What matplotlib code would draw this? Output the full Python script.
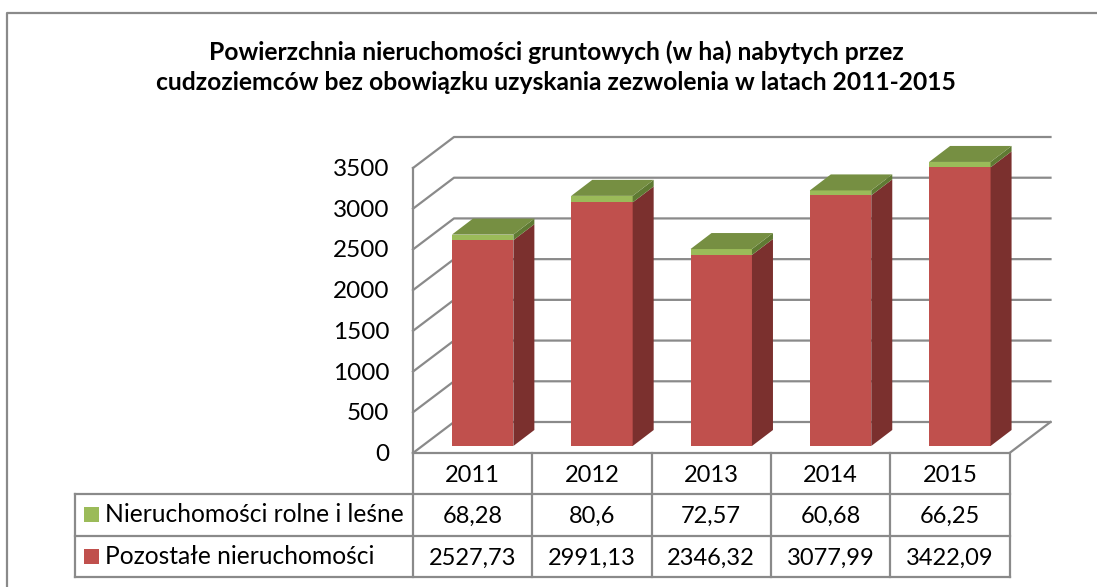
import matplotlib
matplotlib.use("Agg")
import matplotlib.pyplot as plt
from matplotlib.patches import Rectangle

plt.rcParams['font.family'] = ['Lato', 'DejaVu Sans']

W, H = 1097, 587

title = ("Powierzchnia nieruchomości gruntowych (w ha) nabytych przez\n"
         "cudzoziemców bez obowiązku uzyskania zezwolenia w latach 2011-2015")
years = ["2011", "2012", "2013", "2014", "2015"]
rolne = [68.28, 80.6, 72.57, 60.68, 66.25]
pozostale = [2527.73, 2991.13, 2346.32, 3077.99, 3422.09]
rolne_labels = ["68,28", "80,6", "72,57", "60,68", "66,25"]
pozostale_labels = ["2527,73", "2991,13", "2346,32", "3077,99", "3422,09"]
series_names = ["Nieruchomości rolne i leśne", "Pozostałe nieruchomości"]
yticks = [0, 500, 1000, 1500, 2000, 2500, 3000, 3500]

GREY = "#8a8a8a"
RED = "#c0504d"
RED_SIDE = "#7b302e"
GREEN = "#9bbb59"
GREEN_TOP = "#768f42"
GREEN_SIDE = "#5f7a33"
LW = 1.6
TICK_SIZE = 17.5
YEAR_SIZE = 17
VALUE_SIZE = 17
LEGEND_SIZE = 17.7

# pixel box of the front plane
LEFT, RIGHT, BOTTOM, TOP = 413, 1009.5, 453, 168

# depth of the walls and of the bars, in data units
SX = 5 / (RIGHT - LEFT)
SY = 3500 / (BOTTOM - TOP)
WALL_X, WALL_Y = 41 * SX, 31 * SY
BAR_X, BAR_Y = 21 * SX, 16 * SY
SHIFT_X, SHIFT_Y = 10 * SX, 7 * SY
BAR_W = 0.515

fig = plt.figure(figsize=(W / 100, H / 100), dpi=100)

# whole figure overlay in pixels, for frame and table
bg = fig.add_axes([0, 0, 1, 1])
bg.set_xlim(0, W)
bg.set_ylim(H, 0)
bg.axis("off")

ax = fig.add_axes([LEFT / W, 1 - BOTTOM / H, (RIGHT - LEFT) / W, (BOTTOM - TOP) / H])
ax.set_xlim(0, 5)
ax.set_ylim(0, 3500)
ax.axis("off")

# frame, open on the right and bottom
bg.plot([6.5, 6.5, W], [H, 12.5, 12.5], color=GREY, lw=LW, solid_capstyle="butt")

fig.text(556 / W, 1 - 67.5 / H, title, ha="center", va="center", fontsize=17.7, fontweight="bold",
         linespacing=1.38, color="black")

# walls and floor
for v in yticks:
    ax.plot([0, WALL_X, 5 + WALL_X], [v, v + WALL_Y, v + WALL_Y], color=GREY, lw=LW, clip_on=False)
    ax.text(-0.2, v - 18, str(v), ha="right", va="center", fontsize=TICK_SIZE, color="black")
ax.plot([0, 0], [0, 3500], color=GREY, lw=LW, clip_on=False)
ax.plot([0, 5, 5 + WALL_X], [0, 0, WALL_Y], color=GREY, lw=LW, clip_on=False)

# bars: front faces through bar(), side and top faces as polygons
xs = [i + 0.5 + SHIFT_X for i in range(len(years))]
base = [SHIFT_Y] * len(years)
tops = [p + SHIFT_Y for p in pozostale]
ax.bar(xs, pozostale, BAR_W, bottom=base, color=RED, zorder=3, clip_on=False)
ax.bar(xs, rolne, BAR_W, bottom=tops, color=GREEN, zorder=3, clip_on=False)
for x, p, r in zip(xs, pozostale, rolne):
    x1 = x + BAR_W / 2
    x0 = x - BAR_W / 2
    y0 = SHIFT_Y
    y1 = y0 + p
    y2 = y1 + r
    ax.fill([x1, x1 + BAR_X, x1 + BAR_X, x1], [y0, y0 + BAR_Y, y1 + BAR_Y, y1],
            color=RED_SIDE, lw=0, zorder=3, clip_on=False)
    ax.fill([x1, x1 + BAR_X, x1 + BAR_X, x1], [y1, y1 + BAR_Y, y2 + BAR_Y, y2],
            color=GREEN_SIDE, lw=0, zorder=3, clip_on=False)
    ax.fill([x0, x1, x1 + BAR_X, x0 + BAR_X], [y2, y2, y2 + BAR_Y, y2 + BAR_Y],
            color=GREEN_TOP, lw=0, zorder=3, clip_on=False)

# data table below the chart
col_edges = [LEFT + i * (RIGHT - LEFT) / 5 for i in range(6)]
row_edges = [453, 494, 535.5, 576.5]
TABLE_LEFT = 74.5
for x in col_edges:
    bg.plot([x, x], [row_edges[0], row_edges[-1]], color=GREY, lw=LW)
bg.plot([TABLE_LEFT, TABLE_LEFT], [row_edges[1], row_edges[-1]], color=GREY, lw=LW)
for y in row_edges[1:]:
    bg.plot([TABLE_LEFT, RIGHT], [y, y], color=GREY, lw=LW)

rows = [years, rolne_labels, pozostale_labels]
sizes = [YEAR_SIZE, VALUE_SIZE, VALUE_SIZE]
for r, labels in enumerate(rows):
    yc = (row_edges[r] + row_edges[r + 1]) / 2 + 2
    for c, label in enumerate(labels):
        bg.text((col_edges[c] + col_edges[c + 1]) / 2, yc, label, ha="center", va="center",
                fontsize=sizes[r], color="black")

for name, colour, r in zip(series_names, [GREEN, RED], [1, 2]):
    yc = (row_edges[r] + row_edges[r + 1]) / 2
    bg.add_patch(Rectangle((84, yc - 7.5), 15, 15, color=colour, lw=0))
    bg.text(105, yc, name, ha="left", va="center", fontsize=LEGEND_SIZE, color="black")

fig.savefig("out.png", dpi=100)
